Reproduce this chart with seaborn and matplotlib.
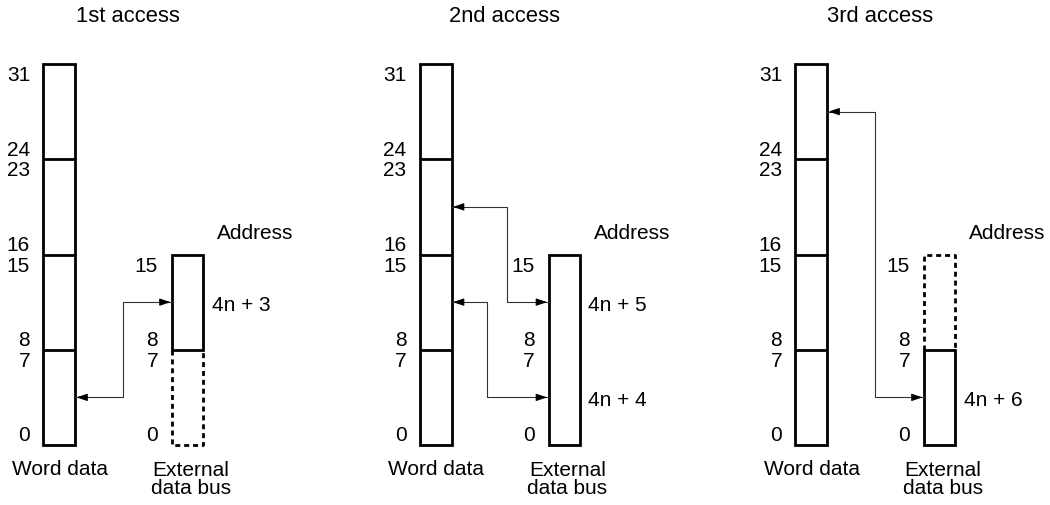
import matplotlib
matplotlib.use("Agg")
import matplotlib.pyplot as plt
import seaborn as sns
from matplotlib.patches import Rectangle

# Data
titles = ["1st access", "2nd access", "3rd access"]
word_bits = [0, 8, 16, 24, 32]               # byte boundaries of the 32-bit word
word_labels = [31, 24, 23, 16, 15, 8, 7, 0]
bus_labels = [15, 8, 7, 0]
bus_solid = [(8, 16), (0, 16), (0, 8)]        # byte lanes used on the 16-bit bus
bus_dashed = [(0, 8), None, (8, 16)]          # unused byte lanes
addresses = [["4n + 3"], ["4n + 5", "4n + 4"], ["4n + 6"]]
addr_bits = [[12], [12, 4], [4]]
# (word data bit, bus bit) for each transfer arrow
transfers = [[(4, 12)], [(20, 12), (12, 4)], [(28, 4)]]

# Layout (pixels horizontally, bits vertically)
PPB = 381 / 32          # pixels per bit
Y0 = 446                # pixel row of bit 0
panel_x = [0, 376.5, 752]
word_x = (43, 75)
bus_x = (172, 203)
route_x = [[123], [130, 110], [123]]
LW = 2.0
FS = 15


def bit(px_row):
    return (Y0 - px_row) / PPB


sns.set_theme(style="white")
plt.rcParams["font.family"] = ["Liberation Sans", "DejaVu Sans"]
plt.rcParams["text.color"] = "black"

fig = plt.figure(figsize=(10.5, 5.06), dpi=100)
ax = fig.add_axes([0, 0, 1, 1])
ax.set_xlim(0, 1050)
ax.set_ylim(bit(506), bit(0))
ax.axis("off")

head = "-|>,head_length=0.65,head_width=0.22"

for i, title in enumerate(titles):
    off = panel_x[i]
    wx0, wx1 = off + word_x[0], off + word_x[1]
    ex0, ex1 = off + bus_x[0], off + bus_x[1]

    ax.text(off + 128, bit(17), title, ha="center", va="center", fontsize=15.8)

    # word data register
    ax.add_patch(Rectangle((wx0, word_bits[0]), wx1 - wx0, word_bits[-1] - word_bits[0],
                           fill=False, lw=LW, ec="black", joinstyle="miter"))
    for b in word_bits[1:-1]:
        ax.plot([wx0, wx1], [b, b], color="black", lw=LW, solid_capstyle="butt")
    for lab in word_labels:
        y = lab + 0.1 if lab % 8 == 7 else lab + 0.85
        ax.text(off + 30, y, str(lab), ha="right", va="center", fontsize=FS)

    # external data bus
    lo, hi = bus_solid[i]
    ax.add_patch(Rectangle((ex0, lo), ex1 - ex0, hi - lo,
                           fill=False, lw=LW, ec="black", joinstyle="miter"))
    if bus_dashed[i] is not None:
        dlo, dhi = bus_dashed[i]
        near, far = (dhi, dlo) if dhi == lo else (dlo, dhi)
        ax.plot([ex0, ex0, ex1, ex1], [near, far, far, near], color="black", lw=LW,
                linestyle=(0, (1.8, 1.4)), dash_capstyle="butt")
    for lab in bus_labels:
        y = lab + 0.1 if lab % 8 == 7 else lab + 0.85
        ax.text(off + 158, y, str(lab), ha="right", va="center", fontsize=FS)

    ax.text(off + 217, bit(234), "Address", ha="left", va="center", fontsize=FS)
    for txt, b in zip(addresses[i], addr_bits[i]):
        ax.text(off + 212, b - 0.2, txt, ha="left", va="center", fontsize=FS)

    # transfer arrows
    for (wb, bb), rx in zip(transfers[i], route_x[i]):
        rx = off + rx
        ax.plot([wx1, rx, rx, ex0], [wb, wb, bb, bb], color="#333333", lw=0.8)
        for tip, tail in [((wx1 + 1.5, wb), (wx1 + 12, wb)),
                          ((ex0 - 1.5, bb), (ex0 - 12, bb))]:
            ax.annotate("", xy=tip, xytext=tail,
                        arrowprops=dict(arrowstyle=head, mutation_scale=10, lw=0.8,
                                        color="black", shrinkA=0, shrinkB=0))

    ax.text(off + 60, bit(460), "Word data", ha="center", va="top", fontsize=FS)
    ax.text(off + 191, bit(461), "External\ndata bus", ha="center", va="top",
            fontsize=FS, linespacing=0.95)

fig.savefig("out.png", dpi=100)
